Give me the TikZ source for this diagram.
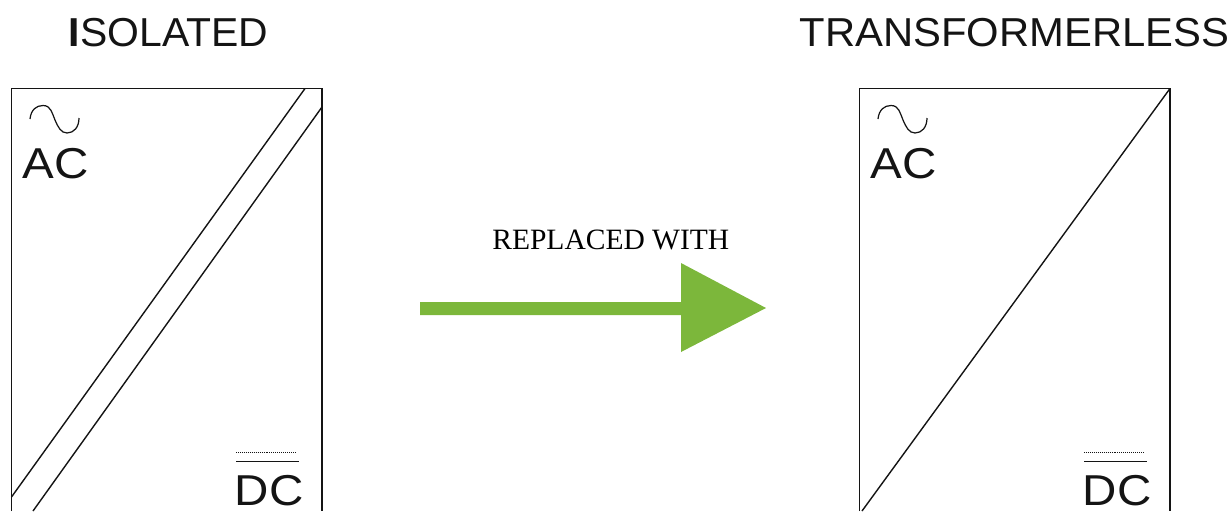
\documentclass[tikz,border=0pt]{standalone}
\usepackage{fontspec}
\setmainfont{Liberation Sans}
\newfontfamily\serifnya{Liberation Serif}
\newfontfamily\lebarA[FakeStretch=1.034]{Liberation Sans}
\newfontfamily\lebarB[FakeStretch=1.1]{Liberation Sans}
\newfontfamily\lebarC[FakeStretch=1.012]{Liberation Sans}
\definecolor{hijau}{HTML}{7CB73B}
\definecolor{tinta}{HTML}{141414}
\tikzset{
  garis/.style={line width=0.8pt,tinta},
  judul/.style={anchor=base west,inner sep=0pt,text=tinta},
  label/.style={anchor=base west,inner sep=0pt,text depth=0pt,text=tinta,font=\lebarB\fontsize{24.6}{25}\selectfont}
}

\begin{document}
\begin{tikzpicture}[x=0.02cm,y=-0.02cm]
  \useasboundingbox (0,0) rectangle (1231,511);

  \node[judul,font=\lebarC\fontsize{23}{23}\selectfont] (judulA) at (68.5,46) {\textbf{I}SOLATED};
  \node[judul,font=\lebarA\fontsize{23}{23}\selectfont] (judulB) at (799.5,46) {TRANSFORMERLESS};

  % kedua kotak
  \foreach \dx/\nm in {0/A,848/B} {
    \begin{scope}[shift={(\dx,0)}]
      \draw[garis] (11.5,511) -- (11.5,88.5) -- (322,88.5) -- (322,511);
      \draw[garis,line width=0.7pt] (30,119) .. controls (31,110) and (36,105.5) .. (43,105.5)
        .. controls (51,105.5) and (52,113) .. (55,120)
        .. controls (58,127) and (61,133) .. (67,133)
        .. controls (74,133) and (79,127) .. (79,118);
      \node[label] (ac\nm) at (22,178) {AC};
      \node[label] (dc\nm) at (234.5,505) {DC};
      \draw[garis,line width=0.5pt,dash pattern=on 0.55pt off 0.57pt] (236,452) -- (296,452);
      \draw[garis] (236,461.5) -- (298.5,461.5);
    \end{scope}
  }

  % diagonal
  \draw[garis] (305,88.5) -- (11.5,497);
  \draw[garis] (322,107) -- (33,511);
  \draw[garis] (1170,88.5) -- (862,511);

  % panah
  \fill[hijau] (420,302) -- (681,302) -- (681,263) -- (766,308) -- (681,352)
    -- (681,315) -- (420,315) -- cycle;
  \node[anchor=base west,inner sep=0pt,text=black,font=\serifnya\fontsize{16.8}{18}\selectfont]
    (ganti) at (492,249) {REPLACED WITH};
\end{tikzpicture}
\end{document}
